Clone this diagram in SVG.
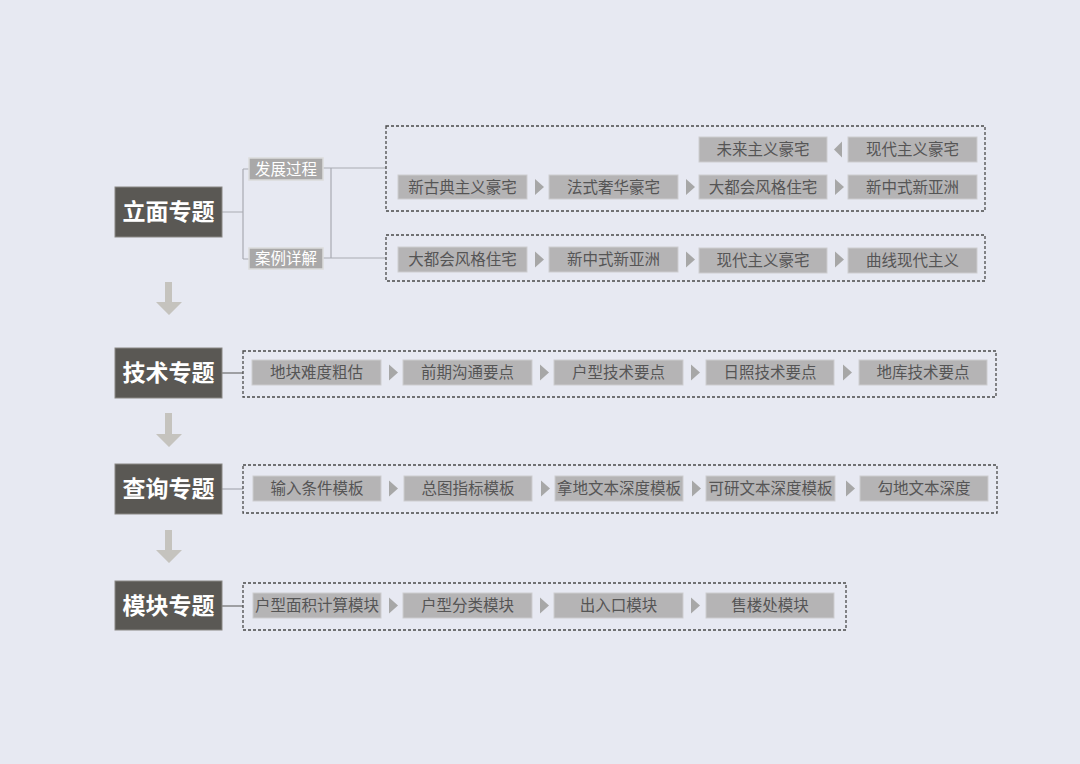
<svg xmlns="http://www.w3.org/2000/svg" width="1080" height="764" viewBox="0 0 1080 764">
<style>
.bg{fill:#e7e9f2}
.main rect{fill:#5a5854;stroke:#8a8884;stroke-width:1}
.main text{fill:#ffffff;font-family:"Noto Sans CJK SC","Noto Sans",sans-serif;font-size:23px;font-weight:bold;text-anchor:middle}
.sub rect{fill:#a9a8a8;stroke:#dcdcdc;stroke-width:1.5}
.sub text{fill:#ffffff;font-family:"Noto Sans CJK SC","Noto Sans",sans-serif;font-size:15.5px;text-anchor:middle}
.item rect{fill:#b5b4b5;stroke:#cdcdcf;stroke-width:1}
.item text{fill:#555555;font-family:"Noto Sans CJK SC","Noto Sans",sans-serif;font-size:15.5px;text-anchor:middle}
.dash{fill:none;stroke:#4a4a4a;stroke-width:1.3;stroke-dasharray:3 2}
.tri{fill:#a7a7a7}
.line{fill:none;stroke:#a9abb2;stroke-width:1.2}
.dline{fill:none;stroke:#6e6e6e;stroke-width:1.2}
.darrow{fill:#c5c3be}
</style>
<rect class="bg" x="0" y="0" width="1080" height="764"/>

<g id="connectors">
  <path class="line" d="M222 212 H243 M243 169 V259 M243 169 H249 M243 259 H249"/>
  <path class="line" d="M323 168 H386 M331 168 V258 M323 258 H386"/>
  <path class="dline" d="M222 373 H243"/>
  <path class="line" d="M222 489 H243"/>
  <path class="dline" d="M222 606 H243"/>
  <path class="darrow" d="M165 282 H172 V302 H182 L169 315 L156 302 H165 Z"/>
  <path class="darrow" d="M165 413 H172 V434 H182 L169 447 L156 434 H165 Z"/>
  <path class="darrow" d="M165 530 H172 V550 H182 L169 563 L156 550 H165 Z"/>
  <g class="tri">
    <polygon points="842,141.5 834,149.5 842,157.5"/>
    <polygon points="535,179 544,187 535,195"/>
    <polygon points="686,179 695,187 686,195"/>
    <polygon points="835,179 844,187 835,195"/>
    <polygon points="535,251.5 544,259.5 535,267.5"/>
    <polygon points="686,251.5 695,259.5 686,267.5"/>
    <polygon points="835,251.5 844,259.5 835,267.5"/>
    <polygon points="389,364.5 398,372.5 389,380.5"/>
    <polygon points="540,364.5 549,372.5 540,380.5"/>
    <polygon points="691,364.5 700,372.5 691,380.5"/>
    <polygon points="843,364.5 852,372.5 843,380.5"/>
    <polygon points="389,480.5 398,488.5 389,496.5"/>
    <polygon points="541,480.5 550,488.5 541,496.5"/>
    <polygon points="692,480.5 701,488.5 692,496.5"/>
    <polygon points="846,480.5 855,488.5 846,496.5"/>
    <polygon points="389,597.5 398,605.5 389,613.5"/>
    <polygon points="540,597.5 549,605.5 540,613.5"/>
    <polygon points="691,597.5 700,605.5 691,613.5"/>
  </g>
</g>

<rect class="dash" x="386" y="126" width="599" height="85"/>
<rect class="dash" x="386" y="235" width="599" height="46"/>
<rect class="dash" x="243" y="351" width="753" height="46"/>
<rect class="dash" x="243" y="465" width="754" height="48"/>
<rect class="dash" x="243" y="583" width="603" height="47"/>

<g id="main-limian" class="main"><rect x="115" y="187" width="107" height="50"/><text x="168.5" y="220">立面专题</text></g>
<g id="main-jishu" class="main"><rect x="115" y="348" width="107" height="50"/><text x="168.5" y="381">技术专题</text></g>
<g id="main-chaxun" class="main"><rect x="115" y="464" width="107" height="50"/><text x="168.5" y="497">查询专题</text></g>
<g id="main-mokuai" class="main"><rect x="115" y="581" width="107" height="49"/><text x="168.5" y="613.5">模块专题</text></g>

<g id="sub-fazhan" class="sub"><rect x="249" y="158" width="74" height="22"/><text x="286" y="174.5">发展过程</text></g>
<g id="sub-anli" class="sub"><rect x="249" y="248" width="74" height="21"/><text x="286" y="264">案例详解</text></g>

<g id="i1" class="item"><rect x="699" y="137" width="128" height="25"/><text x="763" y="155">未来主义豪宅</text></g>
<g id="i2" class="item"><rect x="848" y="137" width="129" height="25"/><text x="912.5" y="155">现代主义豪宅</text></g>
<g id="i3" class="item"><rect x="398" y="175" width="129" height="24"/><text x="462.5" y="192.5">新古典主义豪宅</text></g>
<g id="i4" class="item"><rect x="549" y="175" width="129" height="24"/><text x="613.5" y="192.5">法式奢华豪宅</text></g>
<g id="i5" class="item"><rect x="699" y="175" width="128" height="24"/><text x="763" y="192.5">大都会风格住宅</text></g>
<g id="i6" class="item"><rect x="848" y="175" width="129" height="24"/><text x="912.5" y="192.5">新中式新亚洲</text></g>

<g id="i7" class="item"><rect x="398" y="247" width="129" height="25"/><text x="462.5" y="265">大都会风格住宅</text></g>
<g id="i8" class="item"><rect x="549" y="247" width="129" height="25"/><text x="613.5" y="265">新中式新亚洲</text></g>
<g id="i9" class="item"><rect x="699" y="248" width="128" height="25"/><text x="763" y="266">现代主义豪宅</text></g>
<g id="i10" class="item"><rect x="848" y="248" width="129" height="25"/><text x="912.5" y="266">曲线现代主义</text></g>

<g id="t1" class="item"><rect x="252" y="360" width="129" height="25"/><text x="316.5" y="378">地块难度粗估</text></g>
<g id="t2" class="item"><rect x="403" y="360" width="129" height="25"/><text x="467.5" y="378">前期沟通要点</text></g>
<g id="t3" class="item"><rect x="554" y="360" width="129" height="25"/><text x="618.5" y="378">户型技术要点</text></g>
<g id="t4" class="item"><rect x="706" y="360" width="128" height="25"/><text x="770" y="378">日照技术要点</text></g>
<g id="t5" class="item"><rect x="859" y="360" width="128" height="25"/><text x="923" y="378">地库技术要点</text></g>

<g id="q1" class="item"><rect x="253" y="476" width="128" height="25"/><text x="317" y="494">输入条件模板</text></g>
<g id="q2" class="item"><rect x="404" y="476" width="128" height="25"/><text x="468" y="494">总图指标模板</text></g>
<g id="q3" class="item"><rect x="555" y="476" width="128" height="25"/><text x="619" y="494">拿地文本深度模板</text></g>
<g id="q4" class="item"><rect x="706" y="476" width="129" height="25"/><text x="770.5" y="494">可研文本深度模板</text></g>
<g id="q5" class="item"><rect x="860" y="476" width="128" height="25"/><text x="924" y="494">勾地文本深度</text></g>

<g id="m1" class="item"><rect x="253" y="593" width="128" height="25"/><text x="317" y="611">户型面积计算模块</text></g>
<g id="m2" class="item"><rect x="403" y="593" width="129" height="25"/><text x="467.5" y="611">户型分类模块</text></g>
<g id="m3" class="item"><rect x="554" y="593" width="129" height="25"/><text x="618.5" y="611">出入口模块</text></g>
<g id="m4" class="item"><rect x="706" y="593" width="128" height="25"/><text x="770" y="611">售楼处模块</text></g>
</svg>
